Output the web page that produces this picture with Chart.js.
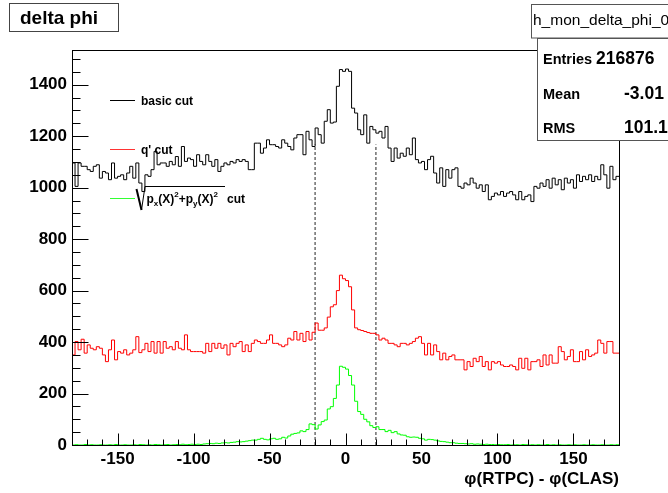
<!DOCTYPE html>
<html><head><meta charset="utf-8">
<script src="https://cdn.jsdelivr.net/npm/chart.js@4.4.0/dist/chart.umd.min.js"></script>
<style>html,body{margin:0;padding:0;background:#fff;}#c{display:block;}</style>
</head><body>
<canvas id="c" width="668" height="493"></canvas>
<script>
// ---- data (2-degree bins from -180 to 180) ----
const binLow = -180;
const binWidth = 2;
const basicCut = [
 1096,1005,1096,1083,1083,1070,1063,1083,1089,1037,
 1063,1057,1031,1096,1037,1044,1050,1031,1057,1083,
 1037,1096,1018,985,1050,1044,1070,1141,1089,1096,
 1096,1083,1102,1089,1121,1083,1160,1102,1115,1109,
 1083,1128,1102,1089,1128,1102,1083,1109,1063,1083,
 1096,1089,1102,1096,1109,1102,1109,1102,1070,1070,
 1173,1173,1134,1154,1186,1167,1167,1160,1154,1186,
 1173,1160,1147,1193,1206,1206,1128,1219,1186,1160,
 1232,1206,1173,1258,1303,1251,1255,1394,1459,1452,
 1461,1452,1309,1290,1225,1206,1283,1173,1238,1225,
 1212,1219,1193,1238,1154,1102,1154,1115,1134,1122,
 1154,1128,1193,1109,1096,1102,1070,1109,1122,1057,
 1018,1077,1005,1070,1037,1070,1077,1005,998,1018,
 1011,1037,1018,998,1011,985,1011,953,966,979,
 972,985,966,979,985,972,953,985,953,966,
 972,946,1005,998,1018,1005,1031,998,1037,1011,
 1031,992,1037,1018,1031,998,1050,1024,1044,1031,
 1050,1024,1044,1031,1089,1050,998,1083,1031,1044
];
const qPrimeCut = [
 350,402,370,411,357,389,376,370,382,376,
 350,324,370,408,331,363,357,370,350,357,
 370,421,359,370,395,363,402,357,402,357,
 402,376,382,370,402,376,370,428,370,363,
 363,363,363,357,395,363,395,376,395,376,
 389,350,395,382,395,402,363,389,363,395,
 408,402,395,395,408,428,395,395,389,382,
 389,415,408,441,408,434,402,441,408,438,
 474,446,446,455,497,537,545,600,660,646,
 639,615,525,455,448,445,441,437,434,434,
 428,408,415,408,395,395,389,382,395,395,
 389,395,402,415,421,395,350,395,350,389,
 363,331,357,331,344,350,331,331,331,292,
 324,305,337,324,344,305,324,292,324,318,
 324,311,305,305,311,305,292,337,298,337,
 292,324,324,331,305,350,311,350,318,318,
 382,363,331,344,370,324,324,363,331,370,
 344,350,357,408,395,357,402,402,357,357
];
const ptCut = [
 0,1,0,0,2,0,1,0,0,1,
 0,0,1,0,2,0,0,1,0,0,
 1,0,2,1,0,1,0,2,1,0,
 1,2,0,1,2,1,3,1,2,3,
 2,3,2,4,5,6,5,7,6,8,
 9,8,10,11,13,12,13,15,17,19,
 19,22,26,22,20,24,26,22,24,30,
 27,35,42,45,47,55,52,60,82,79,
 62,78,91,97,140,149,181,233,306,302,
 295,270,233,170,130,119,100,90,75,68,
 71,60,60,52,57,48,52,43,39,38,
 32,30,31,30,26,24,19,22,21,19,
 16,14,13,11,9,9,7,6,6,5,
 4,5,3,4,3,2,3,2,2,1,
 2,1,1,2,0,1,1,0,2,1,
 0,1,0,1,0,0,2,0,1,0,
 1,0,0,1,0,1,0,0,1,0,
 0,1,0,0,1,0,0,1,0,1
];
const xTickLabels = [-150,-100,-50,0,50,100,150];
const yTickLabels = [0,200,400,600,800,1000,1200,1400];
const cutPositions = [-20, 20];
const cutTop = 1168;
const xMin = -180, xMax = 180, yMin = 0, yMax = 1535;
const statsLabels = ['Entries','Mean','RMS'];
const statsValues = ['216876','-3.01','101.1'];
const histName = 'h_mon_delta_phi_0';
const titleText = 'delta phi';
const xTitle = 'φ(RTPC) - φ(CLAS)';

const FONT = "'Liberation Sans', Arial, Helvetica, sans-serif";

function histPoints(vals) {
  const pts = vals.map((v, i) => ({x: binLow + i * binWidth, y: v}));
  pts.push({x: binLow + vals.length * binWidth, y: vals[vals.length - 1]});
  return pts;
}

const datasets = [
  {data: histPoints(basicCut), borderColor: '#000000'},
  {data: histPoints(qPrimeCut), borderColor: '#ff0000'},
  {data: histPoints(ptCut), borderColor: '#00ff00'}
].map(d => Object.assign(d, {stepped: true, borderWidth: 1, pointRadius: 0, fill: false, tension: 0}));

cutPositions.forEach(c => datasets.push({
  data: [{x: c, y: 0}, {x: c, y: cutTop}],
  borderColor: '#777777', borderWidth: 1.6, borderDash: [3, 2],
  pointRadius: 0, fill: false, stepped: false
}));

function line(ctx, x1, y1, x2, y2) {
  ctx.beginPath(); ctx.moveTo(x1, y1); ctx.lineTo(x2, y2); ctx.stroke();
}

const rootDecor = {
  id: 'rootDecor',
  afterDraw(chart) {
    const {ctx, chartArea: a, scales: {x, y}} = chart;
    ctx.save();
    ctx.strokeStyle = '#000'; ctx.lineWidth = 1;
    const L = Math.round(a.left) + 0.5, R = Math.round(a.right) + 0.5;
    const T = Math.round(a.top) + 0.5, B = Math.round(a.bottom) + 0.5;
    ctx.strokeRect(L, T, R - L, B - T);
    // y ticks (inside)
    for (let v = yMin; v <= yMax; v += 50) {
      const py = Math.round(y.getPixelForValue(v)) + 0.5;
      const len = v % 200 === 0 ? 16 : 8;
      line(ctx, L, py, L + len, py);
    }
    // x ticks (inside)
    for (let v = xMin + 10; v < xMax; v += 10) {
      const px = Math.round(x.getPixelForValue(v)) + 0.5;
      const len = v % 50 === 0 ? 12 : 6;
      line(ctx, px, B, px, B - len);
    }
    // axis title
    ctx.fillStyle = '#000';
    ctx.font = 'bold 17px ' + FONT;
    ctx.textAlign = 'right'; ctx.textBaseline = 'alphabetic';
    ctx.fillText(xTitle, a.right, 484);

    // legend
    ctx.textAlign = 'left';
    const lx1 = 110, lx2 = 135;
    ctx.lineWidth = 1;
    ctx.strokeStyle = '#000000'; line(ctx, lx1, 100.5, lx2, 100.5);
    ctx.strokeStyle = '#ff3333'; line(ctx, lx1, 149.5, lx2, 149.5);
    ctx.strokeStyle = '#33ff33'; line(ctx, lx1, 198.5, lx2, 198.5);
    ctx.font = 'bold 12px ' + FONT;
    ctx.fillText('basic cut', 141, 105);
    ctx.fillText("q' cut", 141, 154);
    // sqrt label
    ctx.strokeStyle = '#000';
    ctx.lineWidth = 2; line(ctx, 136.5, 189, 141.5, 210);
    ctx.lineWidth = 1;
    ctx.beginPath(); ctx.moveTo(141.5, 210); ctx.lineTo(145, 186.5); ctx.lineTo(225, 186.5); ctx.stroke();
    let cx = 146.5; const yb = 203;
    const big = 'bold 12px ' + FONT, small = 'bold 8px ' + FONT;
    const pieces = [['p', big, 0], ['x', small, 3], ['(X)', big, 0], ['2', small, -6],
                    ['+p', big, 0], ['y', small, 3], ['(X)', big, 0], ['2', small, -6]];
    for (const [t, f, dy] of pieces) {
      ctx.font = f; ctx.fillText(t, cx, yb + dy); cx += ctx.measureText(t).width;
    }
    ctx.font = big; ctx.fillText('cut', 227, yb);

    // title box
    ctx.lineWidth = 1; ctx.strokeStyle = '#444';
    ctx.strokeRect(9.5, 3.5, 109, 28);
    ctx.font = 'bold 19px ' + FONT;
    ctx.fillText(titleText, 20, 24);

    // stats boxes
    ctx.fillStyle = '#fff';
    ctx.fillRect(531, 4, 140, 34); ctx.fillRect(537, 38, 140, 103);
    ctx.strokeStyle = '#555';
    ctx.strokeRect(531.5, 4.5, 140, 33.5);
    ctx.strokeRect(537.5, 38.5, 140, 102);
    ctx.fillStyle = '#000';
    ctx.font = '15.5px ' + FONT;
    ctx.fillText(histName, 533, 25);
    const rowsY = [64, 99, 133];
    const valX = [596, 624, 624];
    statsLabels.forEach((lab, i) => {
      ctx.font = 'bold 14.5px ' + FONT; ctx.fillText(lab, 543, rowsY[i]);
      ctx.font = 'bold 17.5px ' + FONT; ctx.fillText(statsValues[i], valX[i], rowsY[i]);
    });
    ctx.restore();
  }
};

const tickFont = {family: FONT, size: 17, weight: 'bold'};
new Chart(document.getElementById('c'), {
  type: 'line',
  data: {datasets},
  options: {
    responsive: false, animation: false, devicePixelRatio: 1,
    layout: {padding: {top: 50, right: 49, left: 0, bottom: 0}},
    plugins: {legend: {display: false}, tooltip: {enabled: false}, title: {display: false}},
    scales: {
      x: {
        type: 'linear', min: xMin, max: xMax,
        grid: {display: false, drawTicks: false}, border: {display: false},
        afterBuildTicks: s => { s.ticks = xTickLabels.map(v => ({value: v})); },
        afterFit: s => { s.height = 48; },
        ticks: {font: tickFont, color: '#000', padding: 4, maxRotation: 0, autoSkip: false,
                callback: v => String(v)}
      },
      y: {
        type: 'linear', min: yMin, max: yMax,
        grid: {display: false, drawTicks: false}, border: {display: false},
        afterBuildTicks: s => { s.ticks = yTickLabels.map(v => ({value: v})); },
        afterFit: s => { s.width = 72; },
        ticks: {font: tickFont, color: '#000', padding: 5, autoSkip: false,
                callback: v => String(v)}
      }
    }
  },
  plugins: [rootDecor]
});
</script>
</body></html>
